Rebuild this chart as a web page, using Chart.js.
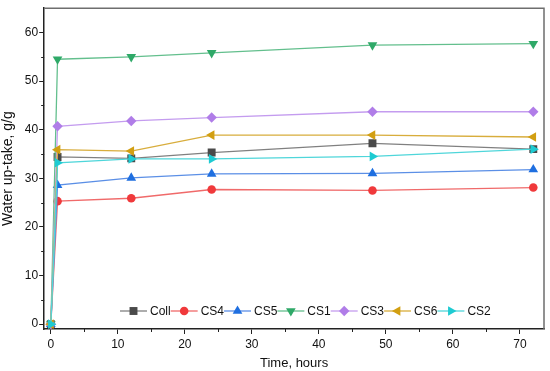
<!DOCTYPE html>
<html>
<head>
<meta charset="utf-8">
<script src="https://cdn.jsdelivr.net/npm/chart.js@4/dist/chart.umd.min.js"></script>
<style>
  html, body { margin: 0; padding: 0; background: #fff; }
  #wrap { width: 550px; height: 371px; }
</style>
</head>
<body>
<div id="wrap"><canvas id="myChart" width="550" height="371"></canvas></div>
<script>
// time points (hours)
var hours = [0, 1, 12, 24, 48, 72];

// water up-take, g/g
var coll = [0, 34.4, 34.1, 35.3, 37.2, 36.0];
var cs4  = [0, 25.3, 25.9, 27.7, 27.5, 28.1];
var cs5  = [0, 28.6, 30.1, 30.9, 31.0, 31.8];
var cs1  = [0, 54.5, 55.0, 55.8, 57.4, 57.7];
var cs3  = [0, 40.7, 41.8, 42.5, 43.7, 43.7];
var cs6  = [0, 35.9, 35.6, 38.9, 38.9, 38.5];
var cs2  = [0, 33.2, 34.0, 34.0, 34.5, 36.0];

var names   = ['Coll', 'CS4', 'CS5', 'CS1', 'CS3', 'CS6', 'CS2'];
var series  = [coll, cs4, cs5, cs1, cs3, cs6, cs2];
var colors  = ['#4a4a4a', '#f0393b', '#1f6fe0', '#2fa968', '#b07de8', '#d29f12', '#1ecbd2'];
var lineCol = ['#808080', '#f06a6a', '#5b8fe6', '#63bf8d', '#c49cef', '#d8ad3c', '#4fd6da'];
var shapes  = ['rect', 'circle', 'triangle', 'triangle', 'rectRot', 'triangle', 'triangle'];
var rots    = [0, 0, 0, 180, 0, -90, 90];
var sizes   = [5.6, 4.3, 5.6, 5.6, 5.2, 5.6, 5.6];

var FONT = '"Liberation Sans", Arial, sans-serif';

function toPoints(vals) {
    var pts = [];
    for (var i = 0; i < vals.length; i++) {
        pts.push({x: hours[i], y: vals[i]});
    }
    return pts;
}

var datasets = [];
for (var i = 0; i < names.length; i++) {
    datasets.push({
        label: names[i],
        data: toPoints(series[i]),
        order: names.length - i,   // later series on top, like the original
        borderColor: lineCol[i],
        backgroundColor: colors[i],
        borderWidth: 1.3,
        pointStyle: shapes[i],
        pointRotation: rots[i],
        pointRadius: sizes[i],
        pointBorderWidth: 0,
        pointBackgroundColor: colors[i],
        tension: 0
    });
}

// frame, minor ticks and inside legend
var extras = {
    id: 'extras',
    afterDraw: function(chart) {
        var ctx = chart.ctx;
        var a = chart.chartArea;
        var xs = chart.scales.x, ys = chart.scales.y;
        ctx.save();
        ctx.strokeStyle = '#6e6e6e';
        ctx.lineWidth = 1.5;
        ctx.beginPath();
        ctx.moveTo(a.left, a.top);
        ctx.lineTo(a.right, a.top);
        ctx.lineTo(a.right, a.bottom);
        ctx.stroke();

        // minor ticks
        ctx.strokeStyle = '#222';
        ctx.lineWidth = 1;
        ctx.beginPath();
        for (var v = 5; v < 73; v += 10) {
            var px = Math.round(xs.getPixelForValue(v)) + 0.5;
            ctx.moveTo(px, a.bottom);
            ctx.lineTo(px, a.bottom + 3);
        }
        for (var w = 5; w < 65; w += 10) {
            var py = Math.round(ys.getPixelForValue(w)) + 0.5;
            ctx.moveTo(a.left, py);
            ctx.lineTo(a.left - 3, py);
        }
        ctx.stroke();

        // legend
        ctx.font = '12px ' + FONT;
        ctx.textBaseline = 'middle';
        var x = 120, y = 311;
        for (var i = 0; i < chart.data.datasets.length; i++) {
            var ds = chart.data.datasets[i];
            ctx.strokeStyle = ds.borderColor;
            ctx.lineWidth = 1.3;
            ctx.beginPath();
            ctx.moveTo(x, y);
            ctx.lineTo(x + 27, y);
            ctx.stroke();
            ctx.fillStyle = ds.pointBackgroundColor;
            Chart.helpers.drawPoint(ctx, {
                pointStyle: ds.pointStyle,
                rotation: ds.pointRotation,
                radius: ds.pointRadius,
                borderWidth: 0
            }, x + 13.5, y);
            ctx.fillStyle = '#111';
            ctx.fillText(ds.label, x + 30, y + 1);
            x += 30 + ctx.measureText(ds.label).width;
        }
        ctx.restore();
    }
};

var ctx = 'myChart';
var myChart = new Chart(ctx, {
    type: 'line',
    data: { datasets: datasets },
    options: {
        responsive: false,
        animation: false,
        layout: { padding: { top: 6, right: 6, left: 0, bottom: 0 } },
        plugins: {
            legend: { display: false },
            tooltip: { enabled: false }
        },
        scales: {
            x: {
                type: 'linear',
                min: -1,
                max: 73.6,
                border: { color: '#222', width: 1.5 },
                grid: { drawOnChartArea: false, tickLength: 5, color: '#222' },
                ticks: {
                    color: '#111',
                    padding: 3,
                    font: { family: FONT, size: 12 },
                    maxRotation: 0
                },
                afterBuildTicks: function(scale) {
                    scale.ticks = [0, 10, 20, 30, 40, 50, 60, 70].map(function(v) { return {value: v}; });
                },
                title: {
                    display: true,
                    text: 'Time, hours',
                    color: '#111',
                    padding: { top: 1, bottom: 0 },
                    font: { family: FONT, size: 13 }
                }
            },
            y: {
                min: -1,
                max: 65,
                border: { color: '#222', width: 1.5 },
                grid: { drawOnChartArea: false, tickLength: 5, color: '#222' },
                ticks: {
                    color: '#111',
                    padding: 1,
                    font: { family: FONT, size: 12 }
                },
                afterBuildTicks: function(scale) {
                    scale.ticks = [0, 10, 20, 30, 40, 50, 60].map(function(v) { return {value: v}; });
                },
                title: {
                    display: true,
                    text: 'Water up-take, g/g',
                    color: '#111',
                    padding: { top: 0, bottom: 7 },
                    font: { family: FONT, size: 14 }
                }
            }
        }
    },
    plugins: [extras]
});
</script>
</body>
</html>
